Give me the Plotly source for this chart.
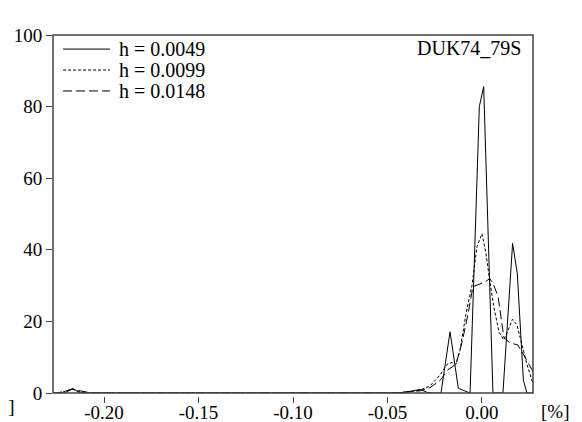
import plotly.graph_objects as go

# density estimates for three bandwidths (x in %, y = density)
x_h1 = [-0.227, -0.2206, -0.2166, -0.2127, -0.0476, -0.0407, -0.0365, -0.0328, -0.0291, -0.0265,
        -0.0217, -0.0169, -0.0125, -0.0072, -0.0063, -0.0014, 0.0009, 0.0058, 0.0111, 0.0162,
        0.0187, 0.0219, 0.0238, 0.027]
y_h1 = [0, 0, 1.3, 0, 0, 0.2, 0.6, 1.0, 0.2, 0,
        0, 17.1, 1.3, 0, 0, 80, 85.6, 0, 0, 41.8,
        33.4, 3.6, 0, 0]

x_h2 = [-0.227, -0.2233, -0.2169, -0.21, -0.0476, -0.0407, -0.0328, -0.0275, -0.0222, -0.0185,
        -0.0159, -0.0138, -0.0116, -0.0085, -0.0053, -0.0026, 0.0, 0.0021, 0.0042, 0.0063,
        0.0090, 0.0116, 0.0138, 0.0161, 0.0185, 0.0212, 0.0238, 0.027]
y_h2 = [0, 0, 1.1, 0, 0, 0.2, 0.8, 2.0, 5.0, 8.0,
        8.5, 8.0, 12, 22, 30, 41, 44.5, 39, 31, 24,
        17, 14.8, 17.5, 20.6, 19, 13, 8, 2.5]

x_h3 = [-0.227, -0.2249, -0.2169, -0.2063, -0.0476, -0.0407, -0.0328, -0.0275, -0.0222, -0.0180,
        -0.0138, -0.0106, -0.0074, -0.0048, -0.0011, 0.0016, 0.0042, 0.0063, 0.0085, 0.0101,
        0.0116, 0.0148, 0.0190, 0.0217, 0.0243, 0.027]
y_h3 = [0, 0, 1.0, 0, 0, 0.3, 0.6, 1.5, 3.5, 6.5,
        8, 14, 22, 29.7, 30.5, 31, 32, 30, 27, 21,
        15.5, 14, 13.4, 11, 8.4, 6]

series_names = ["h = 0.0049", "h = 0.0099", "h = 0.0148"]
series_dash = ["solid", "3px,2px", "9px,4px"]
x_tickvals = [-0.20, -0.15, -0.10, -0.05, 0.00]
x_ticktext = ["-0.20", "-0.15", "-0.10", "-0.05", "0.00"]
y_tickvals = [0, 20, 40, 60, 80, 100]

font = "Liberation Serif"

fig = go.Figure()
for xs, ys, name, dash in zip([x_h1, x_h2, x_h3], [y_h1, y_h2, y_h3], series_names, series_dash):
    fig.add_trace(go.Scatter(x=xs, y=ys, name=name, mode="lines",
                             line=dict(color="black", width=1, dash=dash)))

# frame around plot area
fig.add_shape(type="rect", xref="x domain", yref="y domain", x0=0, x1=1, y0=0, y1=1,
              line=dict(color="#444", width=1.5))

# legend drawn by hand so the rows sit close together
legend_y = [0.961, 0.903, 0.845]
for name, dash, ly in zip(series_names, series_dash, legend_y):
    fig.add_shape(type="line", xref="paper", yref="paper", x0=0.021, x1=0.119, y0=ly, y1=ly,
                  line=dict(color="black", width=1, dash=dash))
    fig.add_annotation(text=name, xref="paper", yref="paper", x=0.133, y=ly,
                       xanchor="left", yanchor="middle", showarrow=False,
                       font=dict(family=font, size=20, color="black"))

fig.add_annotation(text="DUK74_79S", xref="paper", yref="paper", x=0.979, y=0.964,
                   xanchor="right", yanchor="middle", showarrow=False,
                   font=dict(family=font, size=20, color="black"))
fig.add_annotation(text="[%]", xref="paper", yref="paper", x=1.013, y=-0.044,
                   xanchor="left", yanchor="middle", showarrow=False,
                   font=dict(family=font, size=19, color="black"))
fig.add_annotation(text="[%]", xref="paper", yref="paper", x=-0.077, y=-0.03,
                   xanchor="right", yanchor="middle", showarrow=False,
                   font=dict(family=font, size=19, color="black"))

# page body adds 8px, so size and margins are trimmed by that
fig.update_layout(
    width=574, height=414,
    margin=dict(l=45, r=49, t=27, b=26),
    paper_bgcolor="white", plot_bgcolor="white",
    font=dict(family=font, size=19, color="black"),
    showlegend=False,
    xaxis=dict(range=[-0.227, 0.027], tickvals=x_tickvals, ticktext=x_ticktext,
               ticks="outside", ticklen=6, tickcolor="#444", showgrid=False,
               zeroline=False, showline=False, anchor="free", position=0,
               automargin=False, tickfont=dict(size=19), ticklabelstandoff=-7),
    yaxis=dict(range=[0, 100], tickvals=y_tickvals, domain=[0.0083, 1],
               ticks="outside", ticklen=6, tickcolor="#444", showgrid=False,
               zeroline=False, showline=False, automargin=False),
)

fig.write_html("out.html")
